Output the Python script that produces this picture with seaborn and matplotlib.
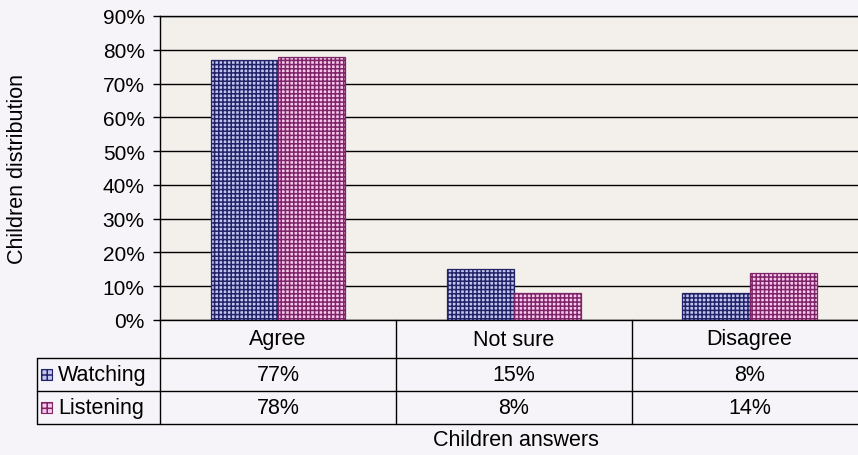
import numpy as np
import pandas as pd
import seaborn as sns
import matplotlib.pyplot as plt
from matplotlib.patches import Rectangle
from matplotlib.lines import Line2D
from matplotlib.transforms import blended_transform_factory

# —— DATA —— #
categories = ['Agree', 'Not sure', 'Disagree']
series = ['Watching', 'Listening']
watching = [77, 15, 8]
listening = [78, 8, 14]
ytick_vals = [0, 10, 20, 30, 40, 50, 60, 70, 80, 90]

# —— STYLE —— #
FACE = {'Watching': '#c3c5ee', 'Listening': '#f8c8ec'}
HATCH_COL = {'Watching': '#22246a', 'Listening': '#7e2468'}
HATCH = {'Watching': '++++', 'Listening': '++++'}
FIG_BG = '#f6f4f8'
AX_BG = '#f3efea'
FS = 15.5
TICK_FS = 15

sns.set_theme(style='white')
plt.rcParams['font.family'] = ['Liberation Sans', 'DejaVu Sans']
plt.rcParams['hatch.linewidth'] = 1.1
plt.rcParams['text.color'] = 'black'
plt.rcParams['axes.labelcolor'] = 'black'
plt.rcParams['ytick.color'] = 'black'

df = pd.DataFrame({
    'answer': categories * 2,
    'group': ['Watching'] * len(categories) + ['Listening'] * len(categories),
    'value': np.array(watching + listening) / 100.0,
})

fig = plt.figure(figsize=(8.58, 4.56), dpi=100, facecolor=FIG_BG)
ax = fig.add_axes([160 / 858, 1 - 321 / 456, 698 / 858, 304 / 456])
ax.set_facecolor(AX_BG)

sns.barplot(data=df, x='answer', y='value', hue='group', hue_order=series,
            palette=FACE, saturation=1, width=0.57, legend=False, ax=ax,
            zorder=3)
for cont, name in zip(ax.containers, series):
    for bar in cont:
        bar.set_hatch(HATCH[name])
        bar.set_edgecolor(HATCH_COL[name])
        bar.set_linewidth(0.9)

ax.set_ylim(0, 0.9)
ax.set_xlim(-0.5, 2.46)
ax.set_yticks([v / 100 for v in ytick_vals])
ax.set_yticklabels([f'{v}%' for v in ytick_vals], fontsize=TICK_FS)
ax.tick_params(axis='y', direction='out', length=5, width=1, color='black',
               left=True, pad=6)
ax.tick_params(axis='x', bottom=False, labelbottom=False)
ax.yaxis.grid(True, color='black', linewidth=1, zorder=1)
ax.set_axisbelow(True)
ax.spines['right'].set_visible(False)
for side in ['left', 'bottom', 'top']:
    ax.spines[side].set_color('black')
    ax.spines[side].set_linewidth(1)

ax.set_xlabel('Children answers', fontsize=FS)
ax.xaxis.set_label_coords(0.51, -0.36)
ax.set_ylabel('')
fig.text(18 / 858, 1 - 169 / 456, 'Children distribution', rotation=90,
         ha='center', va='center', fontsize=FS)

# —— DATA TABLE BELOW THE AXIS —— #
bt = blended_transform_factory(ax.transData, ax.transAxes)
x_left = (37 - 160) / 698
y_head = (321 - 359) / 304
y_r1 = (321 - 392) / 304
y_r2 = (321 - 425) / 304
lkw = dict(color='black', linewidth=1, clip_on=False)

for y in [y_head, y_r1, y_r2]:
    ax.add_line(Line2D([x_left, 1], [y, y], transform=ax.transAxes, **lkw))
ax.add_line(Line2D([x_left, x_left], [y_head, y_r2], transform=ax.transAxes, **lkw))
ax.add_line(Line2D([0, 0], [0, y_r2], transform=ax.transAxes, **lkw))
for i in range(len(categories) - 1):
    ax.add_line(Line2D([i + 0.5, i + 0.5], [0, y_r2], transform=bt, **lkw))

for i, cat in enumerate(categories):
    ax.text(i, y_head / 2, cat, transform=bt, ha='center', va='center',
            fontsize=FS)
    ax.text(i, (y_head + y_r1) / 2, f'{watching[i]}%', transform=bt,
            ha='center', va='center', fontsize=FS)
    ax.text(i, (y_r1 + y_r2) / 2, f'{listening[i]}%', transform=bt,
            ha='center', va='center', fontsize=FS)

sw_w = 11 / 698
sw_h = 11 / 304
for name, (ytop, ybot) in zip(series, [(y_head, y_r1), (y_r1, y_r2)]):
    ym = (ytop + ybot) / 2
    ax.add_patch(Rectangle(((41 - 160) / 698, ym - sw_h / 2), sw_w, sw_h,
                           transform=ax.transAxes, facecolor=FACE[name],
                           edgecolor=HATCH_COL[name], hatch='+++',
                           linewidth=0.8, clip_on=False))
    ax.text((58 - 160) / 698, ym, name, transform=ax.transAxes,
            ha='left', va='center', fontsize=FS)

fig.savefig('out.png', dpi=100, facecolor=FIG_BG)
